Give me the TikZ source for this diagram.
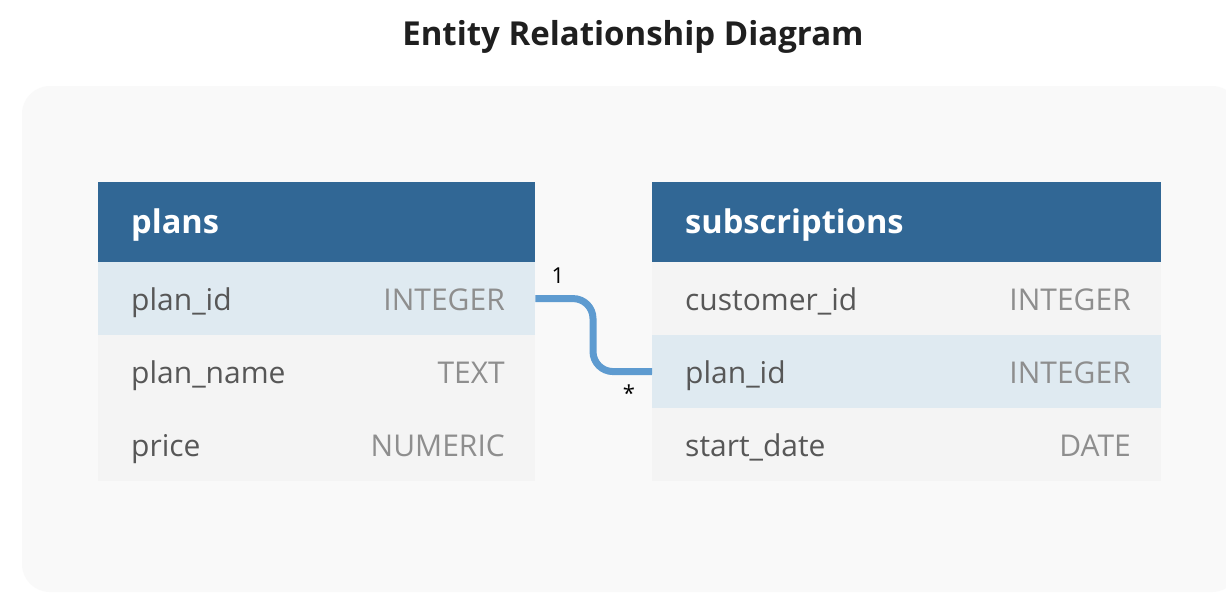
\documentclass[tikz,border=0pt]{standalone}
\usepackage{fontspec}
\setmainfont{Open Sans}
\begin{document}
\begin{tikzpicture}[x=1pt,y=-1pt,
  panelbox/.style={fill=panelbg, draw=none, rounded corners=28pt},
  hdr/.style={fill=hdrblue, draw=none, anchor=north west, inner sep=0pt, minimum height=80pt},
  rowbox/.style={fill=rowgray, draw=none, anchor=north west, inner sep=0pt, minimum height=73pt},
  keyrow/.style={rowbox, fill=rowblue},
  hdrtext/.style={anchor=base west, text=white, font=\fontsize{32.6}{38}\selectfont\bfseries, inner sep=0pt},
  nametext/.style={anchor=base west, text=nametxt, font=\fontsize{30}{36}\selectfont, inner sep=0pt},
  typetext/.style={anchor=base east, text=typetxt, font=\fontsize{30}{36}\selectfont, inner sep=0pt},
  rel/.style={draw=relblue, line width=7pt, rounded corners=20pt},
  card/.style={text=black, font=\fontsize{22}{26}\selectfont, inner sep=0pt}
]
\definecolor{panelbg}{HTML}{F9F9F9}
\definecolor{hdrblue}{HTML}{316795}
\definecolor{rowgray}{HTML}{F4F4F4}
\definecolor{rowblue}{HTML}{DFEAF1}
\definecolor{nametxt}{HTML}{575757}
\definecolor{typetxt}{HTML}{8E8E8E}
\definecolor{relblue}{HTML}{5E9BD0}
\useasboundingbox (0,0) rectangle (1226,606);
\fill[white] (0,0) rectangle (1226,606);
\node[anchor=base, font=\fontsize{33}{38}\selectfont\bfseries, text=black!88, inner sep=0pt] (title) at (633,45) {Entity Relationship Diagram};
\path[panelbox] (22,86) rectangle (1240,592);
% plans table
\node[hdr, minimum width=437pt] (ph) at (98,182) {};
\node[hdrtext] (pht) at (131,233) {plans};
\node[keyrow, minimum width=437pt] (p1) at (98,262) {};
\node[rowbox, minimum width=437pt] (p2) at (98,335) {};
\node[rowbox, minimum width=437pt] (p3) at (98,408) {};
\node[nametext] (p1n) at (131,310) {plan\_id};
\node[typetext] (p1t) at (505,310) {INTEGER};
\node[nametext] (p2n) at (131,383) {plan\_name};
\node[typetext] (p2t) at (505,383) {TEXT};
\node[nametext] (p3n) at (131,456) {price};
\node[typetext] (p3t) at (505,456) {NUMERIC};
% subscriptions table
\node[hdr, minimum width=509pt] (sh) at (652,182) {};
\node[hdrtext] (sht) at (685,233) {subscriptions};
\node[rowbox, minimum width=509pt] (s1) at (652,262) {};
\node[keyrow, minimum width=509pt] (s2) at (652,335) {};
\node[rowbox, minimum width=509pt] (s3) at (652,408) {};
\node[nametext] (s1n) at (685,310) {customer\_id};
\node[typetext] (s1t) at (1131,310) {INTEGER};
\node[nametext] (s2n) at (685,383) {plan\_id};
\node[typetext] (s2t) at (1131,383) {INTEGER};
\node[nametext] (s3n) at (685,456) {start\_date};
\node[typetext] (s3t) at (1131,456) {DATE};
% relationship
\draw[rel] (p1.east) -- (593,298.5) -- (593,371.5) -- (s2.west);
\node[card] (c1) at (558,276) {1};
\node[card] (c2) at (629,393) {*};
\end{tikzpicture}
\end{document}
